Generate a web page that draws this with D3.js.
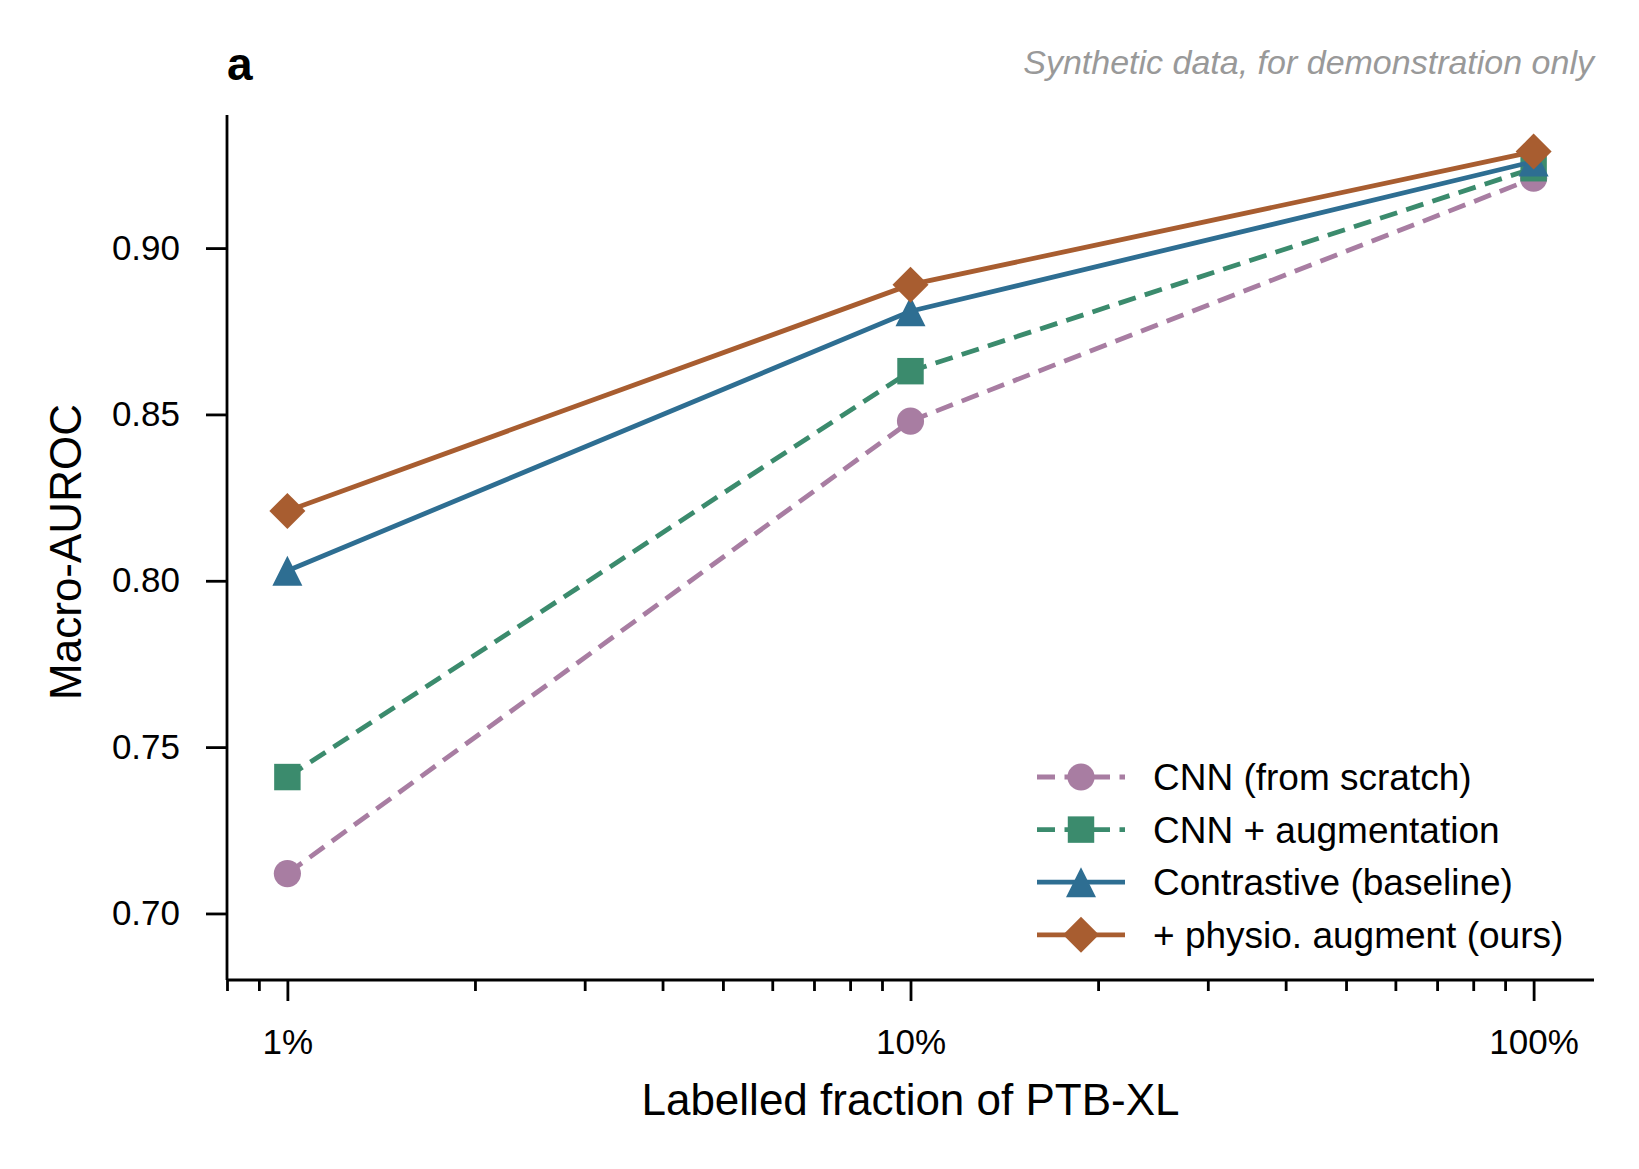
<!DOCTYPE html>
<html>
<head>
<meta charset="utf-8">
<script src="https://cdn.jsdelivr.net/npm/d3@7"></script>
<style>
    body { margin: 0; background: #fff; }
    svg { font-family: "Liberation Sans", Arial, sans-serif; }
    .axis path, .axis line { stroke: #000; stroke-width: 2.8; }
    .axis text { font-size: 35px; fill: #000; }
</style>
</head>
<body>
<svg id="chart" width="1639" height="1169"></svg>
<script>
/*
 Data
 */

var fractions = [1, 10, 100];
var xTickLabels = ['1%', '10%', '100%'];
var yTicks = [0.70, 0.75, 0.80, 0.85, 0.90];

var seriesNames = ['CNN (from scratch)', 'CNN + augmentation', 'Contrastive (baseline)', '+ physio. augment (ours)'];
var cnnScratch = [0.712, 0.848, 0.921];
var cnnAug = [0.741, 0.863, 0.924];
var contrastive = [0.803, 0.881, 0.926];
var physio = [0.821, 0.889, 0.929];

var seriesColors = ['#a87da2', '#3b8b6d', '#2e6e92', '#a85d30'];
var seriesMarkers = ['circle', 'square', 'triangle', 'diamond'];
var seriesDashed = [true, true, false, false];

/*
 Layout
 */

var LEFT = 227, RIGHT = 1594, TOP = 115, BOTTOM = 980;
var LINE_W = 4.8;
var DASH = '18,9.5';

var svg = d3.select('#chart');

var x = d3.scaleLog().domain([0.8, 125]).range([LEFT, RIGHT]);
var y = d3.scaleLinear().domain([0.68, 0.94]).range([BOTTOM, TOP]);

var series = [cnnScratch, cnnAug, contrastive, physio].map(function (vals, i) {
    return {
        id: i,
        name: seriesNames[i],
        color: seriesColors[i],
        marker: seriesMarkers[i],
        dashed: seriesDashed[i],
        points: vals.map(function (v, j) {
            return { fx: fractions[j], v: v };
        })
    };
});

function markerPath(kind) {
    if (kind === 'circle') return d3.symbol(d3.symbolCircle, 580)();
    if (kind === 'square') return d3.symbol(d3.symbolSquare, 700)();
    var s;
    if (kind === 'triangle') {
        s = 15;
        return 'M0,' + (-s) + 'L' + s + ',' + s + 'L' + (-s) + ',' + s + 'Z';
    }
    // diamond: rotated square
    s = 18;
    return 'M0,' + (-s) + 'L' + s + ',0L0,' + s + 'L' + (-s) + ',0Z';
}

/*
 Axes
 */

var minorTicks = [0.8, 0.9, 2, 3, 4, 5, 6, 7, 8, 9, 20, 30, 40, 50, 60, 70, 80, 90];

svg.append('g')
    .classed('axis', true)
    .attr('transform', 'translate(0,' + BOTTOM + ')')
    .call(d3.axisBottom(x).tickValues(minorTicks).tickSize(11).tickFormat('').tickSizeOuter(0))
    .call(function (g) { g.select('.domain').remove(); });

var xAxis = svg.append('g')
    .classed('axis', true)
    .attr('transform', 'translate(0,' + BOTTOM + ')')
    .call(d3.axisBottom(x).tickValues(fractions).tickSize(21).tickSizeOuter(0).tickPadding(28)
        .tickFormat(function (d, i) { return xTickLabels[i]; }));
xAxis.select('.domain').attr('d', 'M' + LEFT + ',0H' + RIGHT);

var yAxis = svg.append('g')
    .classed('axis', true)
    .attr('transform', 'translate(' + LEFT + ',0)')
    .call(d3.axisLeft(y).tickValues(yTicks).tickSize(21).tickSizeOuter(0).tickPadding(26)
        .tickFormat(d3.format('.2f')));
yAxis.select('.domain').attr('d', 'M0,' + TOP + 'V' + BOTTOM);

svg.append('text')
    .attr('x', (LEFT + RIGHT) / 2)
    .attr('y', 1115)
    .attr('text-anchor', 'middle')
    .style('font-size', '44px')
    .text('Labelled fraction of PTB-XL');

svg.append('text')
    .attr('transform', 'translate(81,552) rotate(-90)')
    .attr('text-anchor', 'middle')
    .style('font-size', '44px')
    .text('Macro-AUROC');

svg.append('text')
    .attr('x', 227)
    .attr('y', 80)
    .style('font-size', '46px')
    .style('font-weight', 'bold')
    .text('a');

svg.append('text')
    .attr('x', RIGHT)
    .attr('y', 74)
    .attr('text-anchor', 'end')
    .style('font-size', '34px')
    .style('font-style', 'italic')
    .style('fill', '#999')
    .text('Synthetic data, for demonstration only');

/*
 Lines and markers
 */

var line = d3.line()
    .x(function (d) { return x(d.fx); })
    .y(function (d) { return y(d.v); });

var groups = svg.selectAll('.series')
    .data(series, function (d) { return d.id; })
    .enter().append('g')
    .classed('series', true);

groups.append('path')
    .attr('d', function (d) { return line(d.points); })
    .attr('fill', 'none')
    .attr('stroke', function (d) { return d.color; })
    .attr('stroke-width', LINE_W)
    .attr('stroke-dasharray', function (d) { return d.dashed ? DASH : null; });

groups.each(function (s) {
    d3.select(this).selectAll('.marker')
        .data(s.points)
        .enter().append('path')
        .classed('marker', true)
        .attr('d', markerPath(s.marker))
        .attr('transform', function (d) {
            return 'translate(' + x(d.fx) + ',' + y(d.v) + ')';
        })
        .attr('fill', s.color);
});

/*
 Legend
 */

var legend = svg.append('g').attr('transform', 'translate(1037,777)');

var items = legend.selectAll('.legendItem')
    .data(series)
    .enter().append('g')
    .classed('legendItem', true)
    .attr('transform', function (d, i) { return 'translate(0,' + (i * 52.6) + ')'; });

items.append('line')
    .attr('x1', 0)
    .attr('x2', 88)
    .attr('y1', 0)
    .attr('y2', 0)
    .attr('stroke', function (d) { return d.color; })
    .attr('stroke-width', LINE_W)
    .attr('stroke-dasharray', function (d) { return d.dashed ? DASH : null; });

items.append('path')
    .attr('d', function (d) { return markerPath(d.marker); })
    .attr('transform', 'translate(44,0)')
    .attr('fill', function (d) { return d.color; });

items.append('text')
    .attr('x', 116)
    .attr('y', 0)
    .attr('dy', '0.35em')
    .style('font-size', '37px')
    .text(function (d) { return d.name; });
</script>
</body>
</html>
